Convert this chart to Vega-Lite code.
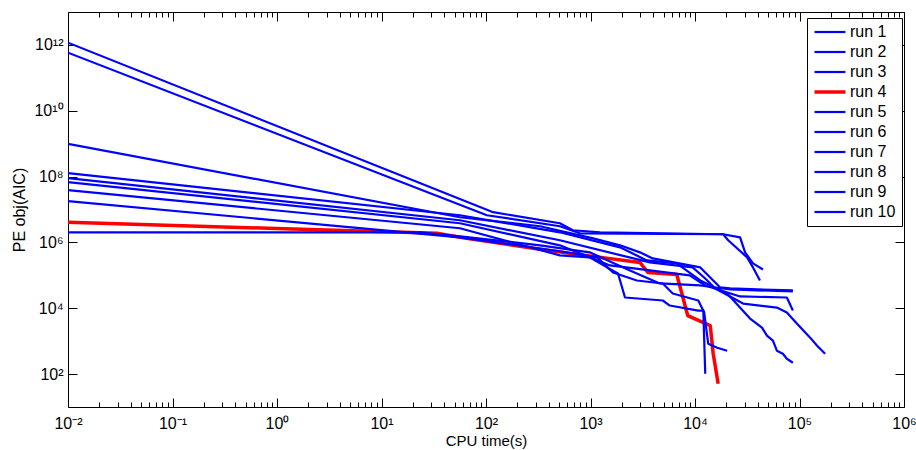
{
  "$schema": "https://vega.github.io/schema/vega-lite/v6.json",
  "width": 836,
  "height": 395,
  "autosize": {"type": "none"},
  "padding": {"left": 68, "top": 12, "right": 12, "bottom": 43},
  "background": "white",
  "config": {"view": {"stroke": "black", "strokeWidth": 1}, "font": "Liberation Sans"},
  "data": {"values": [
    {"run": "run 1", "t": 0.01, "v": 1.17e12}, {"run": "run 1", "t": 117, "v": 8.28e6}, {"run": "run 1", "t": 509, "v": 3.82e6}, {"run": "run 1", "t": 677, "v": 2.34e6}, {"run": "run 1", "t": 1236, "v": 2.03e6}, {"run": "run 1", "t": 18600, "v": 1.77e6}, {"run": "run 1", "t": 27000, "v": 1.43e6}, {"run": "run 1", "t": 30150, "v": 4.99e5}, {"run": "run 1", "t": 35900, "v": 2.31e5}, {"run": "run 1", "t": 44700, "v": 1.51e5},
    {"run": "run 2", "t": 0.01, "v": 5.82e11}, {"run": "run 2", "t": 102, "v": 6.7e6}, {"run": "run 2", "t": 509, "v": 3.1e6}, {"run": "run 2", "t": 790, "v": 1.89e6}, {"run": "run 2", "t": 18600, "v": 1.77e6}, {"run": "run 2", "t": 20770, "v": 1.16e6}, {"run": "run 2", "t": 31520, "v": 3.52e5}, {"run": "run 2", "t": 35900, "v": 1.74e5}, {"run": "run 2", "t": 41830, "v": 6.98e4},
    {"run": "run 3", "t": 0.01, "v": 9.8e8}, {"run": "run 3", "t": 56.3, "v": 5.82e6}, {"run": "run 3", "t": 329, "v": 3.1e6}, {"run": "run 3", "t": 1060, "v": 1.33e6}, {"run": "run 3", "t": 1915, "v": 8.16e5}, {"run": "run 3", "t": 2971, "v": 4.99e5}, {"run": "run 3", "t": 3950, "v": 3.27e5}, {"run": "run 3", "t": 11230, "v": 1.74e5}, {"run": "run 3", "t": 14940, "v": 6.98e4}, {"run": "run 3", "t": 17400, "v": 4.28e4}, {"run": "run 3", "t": 21690, "v": 3.99e4}, {"run": "run 3", "t": 86400, "v": 3.47e4},
    {"run": "run 4", "t": 0.01, "v": 4.1e6}, {"run": "run 4", "t": 0.82, "v": 2.69e6}, {"run": "run 4", "t": 34, "v": 1.89e6}, {"run": "run 4", "t": 56.3, "v": 1.43e6}, {"run": "run 4", "t": 329, "v": 6.2e5}, {"run": "run 4", "t": 1060, "v": 3.77e5}, {"run": "run 4", "t": 2971, "v": 2.47e5}, {"run": "run 4", "t": 3543, "v": 1.22e5}, {"run": "run 4", "t": 6690, "v": 1.06e5}, {"run": "run 4", "t": 8517, "v": 5990}, {"run": "run 4", "t": 13990, "v": 2970}, {"run": "run 4", "t": 14940, "v": 416}, {"run": "run 4", "t": 16660, "v": 50.6},
    {"run": "run 5", "t": 0.01, "v": 1.28e8}, {"run": "run 5", "t": 56.3, "v": 6.7e6}, {"run": "run 5", "t": 509, "v": 2.03e6}, {"run": "run 5", "t": 1915, "v": 7.1e5}, {"run": "run 5", "t": 3463, "v": 2.84e5}, {"run": "run 5", "t": 6690, "v": 2.31e5}, {"run": "run 5", "t": 11230, "v": 6.98e4}, {"run": "run 5", "t": 20310, "v": 2.81e4}, {"run": "run 5", "t": 33640, "v": 4850}, {"run": "run 5", "t": 43750, "v": 2580}, {"run": "run 5", "t": 48800, "v": 1470}, {"run": "run 5", "t": 55670, "v": 1040}, {"run": "run 5", "t": 60750, "v": 513}, {"run": "run 5", "t": 69360, "v": 416}, {"run": "run 5", "t": 75700, "v": 292}, {"run": "run 5", "t": 86400, "v": 221},
    {"run": "run 6", "t": 0.01, "v": 9.0e7}, {"run": "run 6", "t": 56.3, "v": 4.72e6}, {"run": "run 6", "t": 509, "v": 1.16e6}, {"run": "run 6", "t": 3700, "v": 2.47e5}, {"run": "run 6", "t": 9500, "v": 1.74e5}, {"run": "run 6", "t": 12530, "v": 8.04e4}, {"run": "run 6", "t": 15610, "v": 3.99e4}, {"run": "run 6", "t": 28850, "v": 1.39e4}, {"run": "run 6", "t": 60750, "v": 1.05e4}, {"run": "run 6", "t": 75700, "v": 7400}, {"run": "run 6", "t": 94280, "v": 3420}, {"run": "run 6", "t": 126500, "v": 1280}, {"run": "run 6", "t": 147450, "v": 730}, {"run": "run 6", "t": 175800, "v": 416},
    {"run": "run 7", "t": 0.01, "v": 6.8e7}, {"run": "run 7", "t": 56.3, "v": 3.82e6}, {"run": "run 7", "t": 509, "v": 8.16e5}, {"run": "run 7", "t": 1539, "v": 2.0e5}, {"run": "run 7", "t": 3700, "v": 1.41e5}, {"run": "run 7", "t": 8900, "v": 9.93e4}, {"run": "run 7", "t": 12530, "v": 4.92e4}, {"run": "run 7", "t": 27000, "v": 2.28e4}, {"run": "run 7", "t": 75700, "v": 2.12e4}, {"run": "run 7", "t": 86400, "v": 8510},
    {"run": "run 8", "t": 0.01, "v": 3.87e7}, {"run": "run 8", "t": 56.3, "v": 2.69e6}, {"run": "run 8", "t": 509, "v": 4.05e5}, {"run": "run 8", "t": 983, "v": 3.52e5}, {"run": "run 8", "t": 1440, "v": 1.74e5}, {"run": "run 8", "t": 1834, "v": 1.14e5}, {"run": "run 8", "t": 2139, "v": 2.12e4}, {"run": "run 8", "t": 4920, "v": 1.72e4}, {"run": "run 8", "t": 5737, "v": 1.21e4}, {"run": "run 8", "t": 10750, "v": 8510}, {"run": "run 8", "t": 12010, "v": 8510}, {"run": "run 8", "t": 12530, "v": 102},
    {"run": "run 9", "t": 0.01, "v": 1.79e7}, {"run": "run 9", "t": 56.3, "v": 1.43e6}, {"run": "run 9", "t": 509, "v": 5.4e5}, {"run": "run 9", "t": 1158, "v": 3.52e5}, {"run": "run 9", "t": 1642, "v": 1.22e5}, {"run": "run 9", "t": 2779, "v": 6.98e4}, {"run": "run 9", "t": 4920, "v": 5.66e4}, {"run": "run 9", "t": 6127, "v": 2.81e4}, {"run": "run 9", "t": 10750, "v": 1.72e4}, {"run": "run 9", "t": 12250, "v": 7400}, {"run": "run 9", "t": 13380, "v": 839}, {"run": "run 9", "t": 16310, "v": 634}, {"run": "run 9", "t": 20310, "v": 513},
    {"run": "run 10", "t": 0.01, "v": 2.03e6}, {"run": "run 10", "t": 23.4, "v": 2.03e6}, {"run": "run 10", "t": 56.3, "v": 1.53e6}, {"run": "run 10", "t": 329, "v": 8.16e5}, {"run": "run 10", "t": 983, "v": 4.99e5}, {"run": "run 10", "t": 2385, "v": 1.41e5}, {"run": "run 10", "t": 4606, "v": 5.66e4}, {"run": "run 10", "t": 11230, "v": 4.92e4}, {"run": "run 10", "t": 21690, "v": 3.72e4}, {"run": "run 10", "t": 86400, "v": 3.23e4}
  ]},
  "layer": [
    {
      "mark": {"type": "line", "clip": true, "strokeJoin": "round"},
      "encoding": {
        "x": {"field": "t", "type": "quantitative", "title": "CPU time(s)",
          "scale": {"type": "log", "domain": [0.01, 1000000], "nice": false},
          "axis": {"orient": "bottom", "domain": false, "grid": false,
            "values": [0.01,0.02,0.03,0.04,0.05,0.06,0.07,0.08,0.09,0.1,0.2,0.3,0.4,0.5,0.6,0.7,0.8,0.9,1,2,3,4,5,6,7,8,9,10,20,30,40,50,60,70,80,90,100,200,300,400,500,600,700,800,900,1000,2000,3000,4000,5000,6000,7000,8000,9000,10000,20000,30000,40000,50000,60000,70000,80000,90000,100000,200000,300000,400000,500000,600000,700000,800000,900000,1000000],
            "labelExpr": "abs(log(datum.value)/LN10 - round(log(datum.value)/LN10)) < 0.001 ? '10' + (round(log(datum.value)/LN10) < 0 ? '⁻' : '') + ['⁰','¹','²','³','⁴','⁵','⁶','⁷','⁸','⁹'][abs(round(log(datum.value)/LN10))] : ''",
            "tickSize": {"condition": {"test": "abs(log(datum.value)/LN10 - round(log(datum.value)/LN10)) < 0.001", "value": -9}, "value": -5},
            "tickColor": "black", "tickWidth": 1,
            "labelColor": "black", "labelFontSize": 16, "labelFont": "Liberation Sans", "labelPadding": 17,
            "labelFlush": false, "labelOverlap": false, "labelBound": false,
            "titleFontSize": 15, "titleFontWeight": "normal", "titleColor": "black", "titleFont": "Liberation Sans", "titlePadding": -2}
        },
        "y": {"field": "v", "type": "quantitative", "title": "PE obj(AIC)",
          "scale": {"type": "log", "domain": [10, 10000000000000], "nice": false},
          "axis": {"orient": "left", "domain": false, "grid": false,
            "values": [100, 10000, 1000000, 100000000, 10000000000, 1000000000000],
            "labelExpr": "'10' + (round(log(datum.value)/LN10) >= 10 ? '¹' + ['⁰','¹','²','³','⁴','⁵','⁶','⁷','⁸','⁹'][round(log(datum.value)/LN10) - 10] : ['⁰','¹','²','³','⁴','⁵','⁶','⁷','⁸','⁹'][round(log(datum.value)/LN10)])",
            "tickSize": -9, "tickColor": "black", "tickWidth": 1,
            "labelColor": "black", "labelFontSize": 16, "labelFont": "Liberation Sans", "labelPadding": 14,
            "labelOverlap": false, "labelBound": false, "labelFlush": false,
            "titleFontSize": 16, "titleFontWeight": "normal", "titleColor": "black", "titleFont": "Liberation Sans", "titlePadding": 6}
        },
        "color": {"field": "run", "type": "nominal",
          "scale": {"domain": ["run 1","run 2","run 3","run 4","run 5","run 6","run 7","run 8","run 9","run 10"],
                    "range": ["#0000ff","#0000ff","#0000ff","#ff0000","#0000ff","#0000ff","#0000ff","#0000ff","#0000ff","#0000ff"]},
          "legend": {"title": null, "orient": "none", "legendX": 739, "legendY": 6,
            "fillColor": "white", "strokeColor": "black", "padding": 6, "cornerRadius": 0,
            "symbolType": "stroke", "symbolSize": 961, "symbolStrokeWidth": 2.2, "symbolOffset": 9,
            "labelFontSize": 16, "labelColor": "black", "labelFont": "Liberation Sans", "labelOffset": 12, "rowPadding": 4,
            "encode": {"symbols": {"update": {"strokeWidth": {"signal": "datum.value === 'run 4' ? 3.5 : 2.2"}}}}}
        },
        "strokeWidth": {"condition": {"test": "datum.run === 'run 4'", "value": 3.5}, "value": 2.2}
      }
    },
    {
      "mark": {"type": "point", "opacity": 0},
      "encoding": {
        "x": {"field": "t", "type": "quantitative",
          "scale": {"type": "log", "domain": [0.01, 1000000], "nice": false},
          "axis": {"orient": "top", "domain": false, "grid": false, "labels": false, "title": null,
            "values": [0.01,0.02,0.03,0.04,0.05,0.06,0.07,0.08,0.09,0.1,0.2,0.3,0.4,0.5,0.6,0.7,0.8,0.9,1,2,3,4,5,6,7,8,9,10,20,30,40,50,60,70,80,90,100,200,300,400,500,600,700,800,900,1000,2000,3000,4000,5000,6000,7000,8000,9000,10000,20000,30000,40000,50000,60000,70000,80000,90000,100000,200000,300000,400000,500000,600000,700000,800000,900000,1000000],
            "tickSize": {"condition": {"test": "abs(log(datum.value)/LN10 - round(log(datum.value)/LN10)) < 0.001", "value": -9}, "value": -5},
            "tickColor": "black", "tickWidth": 1}
        },
        "y": {"field": "v", "type": "quantitative",
          "scale": {"type": "log", "domain": [10, 10000000000000], "nice": false},
          "axis": {"orient": "right", "domain": false, "grid": false, "labels": false, "title": null,
            "values": [100, 10000, 1000000, 100000000, 10000000000, 1000000000000],
            "tickSize": -9, "tickColor": "black", "tickWidth": 1}
        }
      }
    }
  ],
  "resolve": {"axis": {"x": "independent", "y": "independent"}}
}
